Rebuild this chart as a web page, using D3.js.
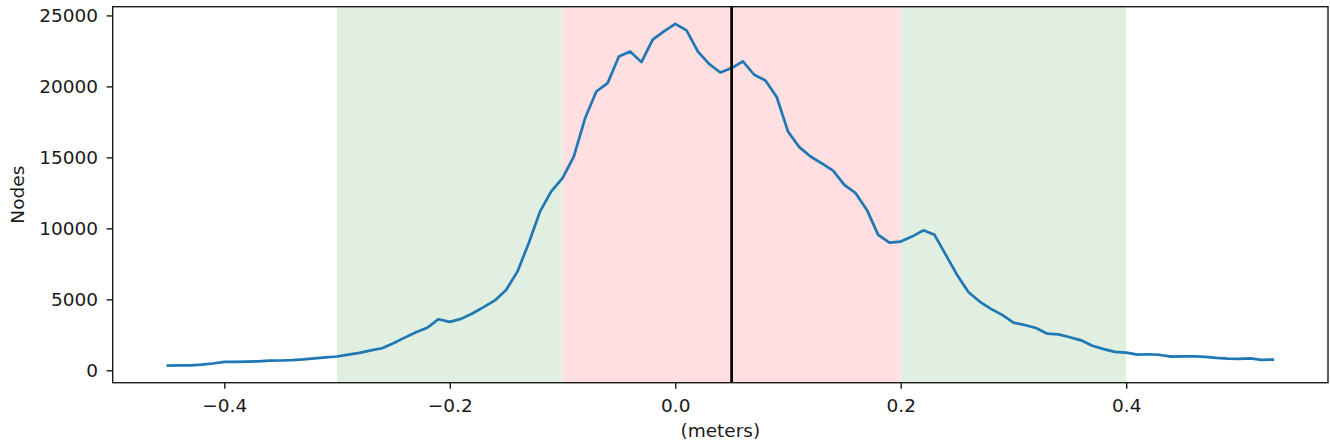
<!DOCTYPE html>
<html>
<head>
<meta charset="utf-8">
<script src="https://cdn.jsdelivr.net/npm/d3@7"></script>
<style>
  html, body { margin: 0; padding: 0; background: #fff; }
  svg { display: block; }
  text { font-family: "DejaVu Sans", sans-serif; fill: #1a1a1a; }
</style>
</head>
<body>
<svg id="chart" width="1330" height="446"></svg>
<script>
// ---- data ----
const xStart = -0.45;   // first bin position (meters)
const xStep = 0.01;     // bin step (meters)
const nodes = [
  330, 340, 350, 400, 480, 590, 590, 610, 630, 680,
  690, 720, 770, 840, 910, 970, 1100, 1230, 1400, 1550,
  1900, 2300, 2680, 3000, 3600, 3410, 3620, 4000, 4450, 4920,
  5660, 6950, 8950, 11180, 12600, 13530, 15050, 17750, 19640, 20230,
  22110, 22460, 21710, 23290, 23870, 24410, 23940, 22460, 21590, 20980,
  21290, 21760, 20820, 20420, 19250, 16820, 15720, 15060, 14580, 14070,
  13060, 12480, 11300, 9540, 9000, 9070, 9420, 9860, 9540, 8130,
  6720, 5520, 4840, 4330, 3900, 3360, 3190, 2980, 2580, 2530,
  2330, 2110, 1730, 1490, 1300, 1240, 1100, 1130, 1080, 960,
  980, 990, 940, 870, 820, 800, 840, 730, 750
];
const greenSpans = [[-0.3, -0.1], [0.2, 0.4]];
const pinkSpans = [[-0.1, 0.2]];
const markerX = [0.05];
const xTicks = [-0.4, -0.2, 0.0, 0.2, 0.4];
const yTicks = [0, 5000, 10000, 15000, 20000, 25000];
const xLabel = "(meters)";
const yLabel = "Nodes";

// ---- layout ----
const svg = d3.select("#chart");
const mLeft = 112.7, mRight = 1328, mTop = 6.7, mBottom = 382.7;

const points = nodes.map((v, i) => ({ x: +(xStart + i * xStep).toFixed(2), y: v }));
const xMin = d3.min(points, d => d.x), xMax = d3.max(points, d => d.x);
const yMin = d3.min(nodes), yMax = d3.max(nodes);
const xPad = 0.05 * (xMax - xMin), yPad = 0.05 * (yMax - yMin);

const x = d3.scaleLinear().domain([xMin - xPad, xMax + xPad]).range([mLeft, mRight]);
const y = d3.scaleLinear().domain([yMin - yPad, yMax + yPad]).range([mBottom, mTop]);

// spans
svg.append("g").selectAll("rect").data(greenSpans).join("rect")
  .attr("x", d => x(d[0])).attr("width", d => x(d[1]) - x(d[0]))
  .attr("y", mTop).attr("height", mBottom - mTop)
  .attr("fill", "#e0efe0");
svg.append("g").selectAll("rect").data(pinkSpans).join("rect")
  .attr("x", d => x(d[0])).attr("width", d => x(d[1]) - x(d[0]))
  .attr("y", mTop).attr("height", mBottom - mTop)
  .attr("fill", "#ffdfe0");

// line
const line = d3.line().x(d => x(d.x)).y(d => y(d.y));
svg.append("path").datum(points)
  .attr("d", line)
  .attr("fill", "none")
  .attr("stroke", "#1f77b4")
  .attr("stroke-width", 2.7)
  .attr("stroke-linejoin", "round")
  .attr("stroke-linecap", "square");

// vertical marker
svg.append("g").selectAll("line").data(markerX).join("line")
  .attr("x1", d => x(d)).attr("x2", d => x(d))
  .attr("y1", mTop).attr("y2", mBottom)
  .attr("stroke", "#000").attr("stroke-width", 2.7);

// axes
const fs = 18.5;
const xAxis = d3.axisBottom(x).tickValues(xTicks).tickSize(6.1).tickPadding(5)
  .tickFormat(d => d3.format(".1f")(d).replace("-", "\u2212"));
const gx = svg.append("g").attr("transform", `translate(0,${mBottom})`).call(xAxis);
const yAxis = d3.axisLeft(y).tickValues(yTicks).tickSize(6.1).tickPadding(8.5)
  .tickFormat(d3.format("d"));
const gy = svg.append("g").attr("transform", `translate(${mLeft},0)`).call(yAxis);
[gx, gy].forEach(g => {
  g.select(".domain").remove();
  g.selectAll(".tick line").attr("stroke", "#1a1a1a").attr("stroke-width", 1.4);
  g.selectAll(".tick text").attr("font-size", fs).attr("font-family", "DejaVu Sans").attr("fill", "#1a1a1a");
});
gx.selectAll(".tick text").attr("dy", null).attr("y", 29.5);

// frame
svg.append("rect")
  .attr("x", mLeft).attr("y", mTop)
  .attr("width", mRight - mLeft).attr("height", mBottom - mTop)
  .attr("fill", "none").attr("stroke", "#1a1a1a").attr("stroke-width", 1.4);

// labels
svg.append("text")
  .attr("x", (mLeft + mRight) / 2).attr("y", 437)
  .attr("text-anchor", "middle").attr("font-size", fs)
  .text(xLabel);
svg.append("text")
  .attr("transform", `translate(24,${(mTop + mBottom) / 2}) rotate(-90)`)
  .attr("text-anchor", "middle").attr("font-size", fs)
  .text(yLabel);
</script>
</body>
</html>
